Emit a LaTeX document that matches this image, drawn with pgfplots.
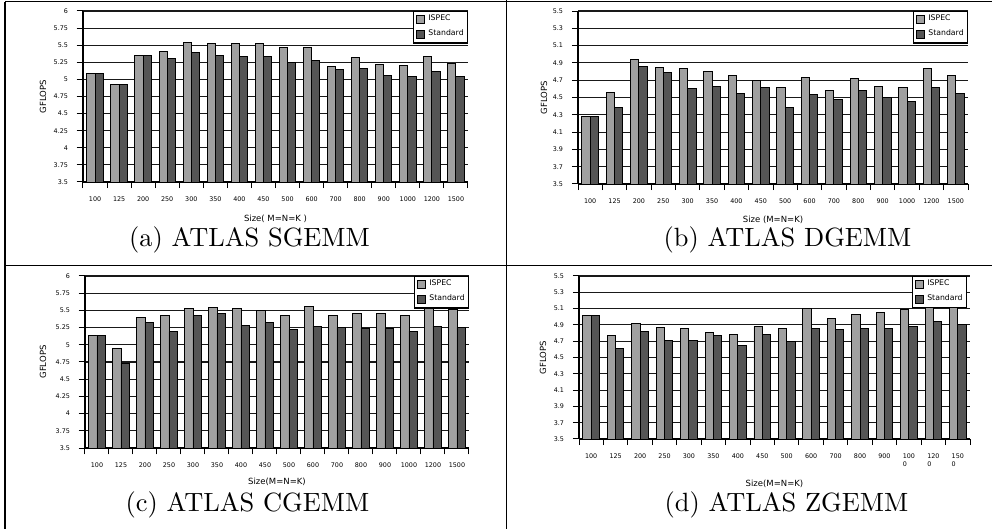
\documentclass[border=0pt]{standalone}
\usepackage{fontspec}
\usepackage{pgfplots}
\usepackage{pgfplotstable}
\pgfplotsset{compat=1.18}
\newfontfamily\dv{DejaVu Sans}
\definecolor{isp}{RGB}{160,160,160}
\definecolor{stdc}{RGB}{85,85,85}

\pgfplotstableread{
x isp std
0 5.09 5.09
1 4.92 4.92
2 5.35 5.35
3 5.41 5.30
4 5.54 5.39
5 5.53 5.35
6 5.53 5.34
7 5.52 5.34
8 5.46 5.25
9 5.47 5.28
10 5.19 5.14
11 5.32 5.16
12 5.22 5.06
13 5.21 5.04
14 5.34 5.12
15 5.24 5.04
}\sgemm

\pgfplotstableread{
x isp std
0 4.28 4.28
1 4.56 4.39
2 4.94 4.86
3 4.85 4.79
4 4.83 4.60
5 4.80 4.63
6 4.76 4.55
7 4.70 4.62
8 4.62 4.38
9 4.73 4.54
10 4.58 4.48
11 4.72 4.58
12 4.63 4.50
13 4.62 4.45
14 4.83 4.62
15 4.75 4.55
}\dgemm

\pgfplotstableread{
x isp std
0 5.14 5.14
1 4.95 4.73
2 5.40 5.33
3 5.43 5.19
4 5.53 5.42
5 5.54 5.46
6 5.53 5.28
7 5.50 5.32
8 5.43 5.22
9 5.55 5.27
10 5.43 5.25
11 5.45 5.24
12 5.45 5.23
13 5.43 5.20
14 5.57 5.27
15 5.51 5.25
}\cgemm

\pgfplotstableread{
x isp std
0 5.02 5.02
1 4.77 4.61
2 4.92 4.82
3 4.87 4.71
4 4.85 4.71
5 4.81 4.77
6 4.78 4.65
7 4.88 4.78
8 4.86 4.70
9 5.10 4.86
10 4.98 4.84
11 5.03 4.86
12 5.05 4.86
13 5.09 4.88
14 5.16 4.94
15 5.12 4.90
}\zgemm

\pgfplotsset{
 panel/.style={
  scale only axis,
  anchor=south west,
  xmin=-0.5, xmax=15.5,
  ybar=0pt, bar width=0.34,
  axis x line*=bottom, axis y line*=left,
  axis line style={line width=0.55pt, -},
  xtick={-0.5,0.5,...,15.5},
  x tick label as interval,
  ymajorgrids,
  grid style={line width=0.42pt, black!90},
  tick align=outside,
  major tick length=2.5pt,
  tick style={line width=0.4pt, black},
  /pgf/number format/assume math mode=true,
  ticklabel style={font=\dv\fontsize{2.55}{3}\selectfont},
  label style={font=\dv\fontsize{3.4}{4}\selectfont},
  legend style={at={(1,1)}, anchor=north east, font=\dv\fontsize{3.1}{3.6}\selectfont,
    draw=black, line width=0.45pt, fill=white,
    inner xsep=1pt, inner ysep=0.8pt, row sep=1.3pt, column sep=0.8pt,
    nodes={inner sep=0.5pt, text depth=0.15em}},
  legend cell align=left,
  legend image code/.code={\draw[##1, line width=0.35pt] (0pt,-1.6pt) rectangle (3.2pt,1.6pt);},
  every axis plot/.append style={draw=black, line width=0.38pt},
  xticklabels={100,125,200,250,300,350,400,450,500,600,700,800,900,1000,1200,1500},
  ylabel={GFLOPS},
 },
 ya/.style={ymin=3.5, ymax=6,
  ytick={3.5,3.75,4,4.25,4.5,4.75,5,5.25,5.5,5.75,6},
  yticklabels={3.5,3.75,4,4.25,4.5,4.75,5,5.25,5.5,5.75,6}},
 yb/.style={ymin=3.5, ymax=5.5,
  ytick={3.5,3.7,3.9,4.1,4.3,4.5,4.7,4.9,5.1,5.3,5.5},
  yticklabels={3.5,3.7,3.9,4.1,4.3,4.5,4.7,4.9,5.1,5.3,5.5}},
}

\begin{document}
\begin{tikzpicture}
\path[use as bounding box] (0pt,0pt) rectangle (396.8pt,211.6pt);

% panel a
\begin{axis}[panel, ya, at={(33.2pt,138.8pt)}, width=154pt, height=68.4pt,
  xlabel={Size( M=N=K )},
  ylabel style={at={(axis description cs:-0.104,0.5)}, anchor=center},
  xlabel style={at={(axis description cs:0.5,-0.232)}, anchor=base}]
\addplot[fill=isp] table[x=x, y=isp] {\sgemm};
\addplot[fill=stdc] table[x=x, y=std] {\sgemm};
\legend{ISPEC, Standard}
\end{axis}

% panel b
\begin{axis}[panel, yb, at={(231.2pt,138pt)}, width=156pt, height=69.2pt,
  xlabel={Size (M=N=K)},
  ylabel style={at={(axis description cs:-0.087,0.5)}, anchor=center},
  xlabel style={at={(axis description cs:0.5,-0.224)}, anchor=base}]
\addplot[fill=isp] table[x=x, y=isp] {\dgemm};
\addplot[fill=stdc] table[x=x, y=std] {\dgemm};
\legend{ISPEC, Standard}
\end{axis}

% panel c
\begin{axis}[panel, ya, at={(34pt,32.4pt)}, width=153.6pt, height=68.8pt,
  xlabel={Size(M=N=K)},
  ylabel style={at={(axis description cs:-0.109,0.5)}, anchor=center},
  xlabel style={at={(axis description cs:0.5,-0.215)}, anchor=base}]
\addplot[fill=isp] table[x=x, y=isp] {\cgemm};
\addplot[fill=stdc] table[x=x, y=std] {\cgemm};
\legend{ISPEC, Standard}
\end{axis}

% panel d
\begin{axis}[panel, yb, at={(231.6pt,36pt)}, width=156.4pt, height=65.2pt,
  xlabel={Size(M=N=K)},
  xticklabels={100,125,200,250,300,350,400,450,500,600,700,800,900,{100\\0},{120\\0},{150\\0}},
  xticklabel style={align=left},
  legend style={at={(0.992,1.003)}},
  ylabel style={at={(axis description cs:-0.092,0.5)}, anchor=center},
  xlabel style={at={(axis description cs:0.5,-0.294)}, anchor=base}]
\addplot[fill=isp] table[x=x, y=isp] {\zgemm};
\addplot[fill=stdc] table[x=x, y=std] {\zgemm};
\legend{ISPEC, Standard}
\end{axis}

% frame
\draw[line width=0.52pt] (2pt,210.92pt) -- (396.8pt,210.92pt);
\draw[line width=0.52pt] (2pt,0pt) -- (2pt,210.92pt);
\draw[line width=0.52pt] (202.52pt,0pt) -- (202.52pt,211.6pt);
\draw[line width=0.52pt] (2pt,105.32pt) -- (396.8pt,105.32pt);

% captions
\node[anchor=base, font=\fontsize{10.56}{12}\selectfont, inner sep=0pt] at (99.8pt,112.8pt) {(a) ATLAS SGEMM};
\node[anchor=base, font=\fontsize{10.56}{12}\selectfont, inner sep=0pt] at (315pt,112.8pt) {(b) ATLAS DGEMM};
\node[anchor=base, font=\fontsize{10.56}{12}\selectfont, inner sep=0pt] at (99pt,7pt) {(c) ATLAS CGEMM};
\node[anchor=base, font=\fontsize{10.56}{12}\selectfont, inner sep=0pt] at (314.6pt,6.8pt) {(d) ATLAS ZGEMM};
\end{tikzpicture}
\end{document}
